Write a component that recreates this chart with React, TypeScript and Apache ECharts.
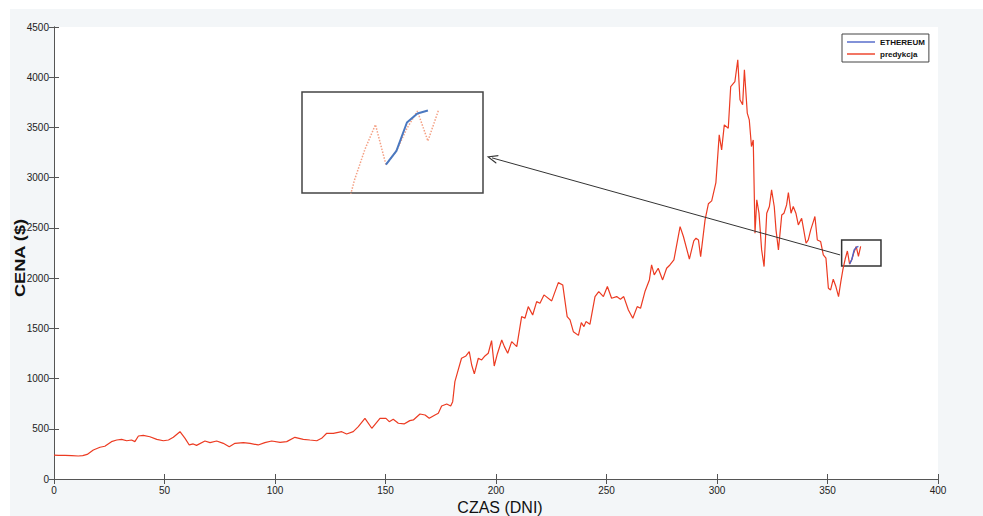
import React, { useEffect, useRef } from "react";
import * as echarts from "echarts";

// [day, price $]
const predykcja: [number, number][] = [
  [0, 238], [2, 236], [5, 235], [8, 232], [11, 229], [13, 232], [15, 245], [17.8, 289], [20.8, 316], [23, 326],
  [26, 372], [28.4, 388], [30.6, 394], [32.9, 381], [35.1, 388], [36.6, 372], [38.2, 428], [40.4, 435], [43.4, 421],
  [46.5, 395], [49.5, 381], [51.8, 388], [54, 415], [57, 471], [59.3, 405], [61.2, 339], [63, 349], [64.5, 335],
  [68.3, 378], [70.6, 362], [73.6, 378], [76.6, 355], [79.3, 322], [81.9, 355], [85.7, 362], [88.7, 355], [92.4, 339],
  [95.4, 362], [98.5, 378], [102.3, 365], [105.3, 372], [109, 415], [112.8, 395], [115.8, 388], [118.9, 381],
  [121.1, 405], [123.4, 455], [126.4, 455], [130.2, 471], [132.4, 448], [135.4, 471], [137.7, 521], [140.7, 604],
  [143.8, 505], [147.5, 604], [150.2, 604], [151.7, 571], [153.5, 594], [155.8, 555], [158.4, 548], [161, 581],
  [162.6, 588], [165.6, 647], [167.9, 637], [169.8, 604], [172.4, 637], [173.9, 654], [175.4, 727], [177.7, 747],
  [179.5, 727], [180.4, 770], [181.4, 969], [182.9, 1086], [184.4, 1202], [186.4, 1225], [187.9, 1268], [189, 1135],
  [190.2, 1046], [192, 1202], [193.5, 1185], [195, 1225], [196.5, 1252], [198, 1378], [199.2, 1125], [200.6, 1245],
  [202.6, 1384], [203.8, 1318], [205.3, 1252], [207.1, 1368], [209.4, 1318], [211.6, 1617], [213.1, 1600],
  [214.6, 1716], [216.6, 1633], [218.4, 1766], [219.9, 1750], [221.7, 1833], [225.2, 1773], [228.2, 1955],
  [230.2, 1932], [232.2, 1617], [233.5, 1584], [235, 1467], [237.3, 1430], [238.6, 1557], [239.8, 1517],
  [240.7, 1567], [242.5, 1540], [244.8, 1816], [246.5, 1866], [248.6, 1816], [250.4, 1916], [252.3, 1800],
  [254.6, 1816], [256.3, 1790], [257.8, 1816], [259.9, 1683], [261.9, 1600], [263.9, 1716], [265.4, 1700],
  [267.4, 1866], [269.4, 1982], [270.4, 2131], [271.6, 2032], [273.4, 2098], [275.4, 1982], [277.2, 2098],
  [278.7, 2131], [280.5, 2181], [283.3, 2513], [284.8, 2414], [287.5, 2190], [289.5, 2370], [290.5, 2397],
  [291.6, 2380], [292.6, 2214], [294.6, 2580], [296.1, 2740], [297.6, 2769], [299.5, 2951], [301, 3426],
  [302.1, 3277], [303.3, 3526], [305.1, 3492], [306.2, 3907], [308.1, 3957], [309.4, 4173], [310.4, 3775],
  [311.6, 3725], [312.4, 4074], [313.7, 3642], [314.6, 3576], [315.6, 3310], [316.4, 3376], [317.2, 2447],
  [318, 2779], [319, 2647], [320.2, 2281], [321.3, 2115], [322.5, 2646], [323.7, 2713], [324.7, 2879],
  [325.9, 2713], [326.7, 2480], [327.8, 2281], [329.3, 2629], [330.3, 2646], [331.5, 2729], [332.3, 2852],
  [333.5, 2646], [334.5, 2713], [335.7, 2646], [336.8, 2530], [338.3, 2596], [339.1, 2497], [340.3, 2347],
  [341.3, 2380], [342.4, 2480], [343.6, 2563], [344.3, 2613], [345.4, 2380], [346.9, 2364], [348.1, 2231],
  [349.3, 2198], [350.4, 1899], [351.4, 1882], [352.6, 1989], [353.8, 1916], [355, 1816], [356, 1960],
  [357, 2090], [358, 2190], [359, 2270], [360, 2140], [361, 2185], [362, 2258], [363, 2314], [364, 2217], [365, 2316],
];

const ethereum: [number, number][] = [
  [360, 2140], [361, 2185], [362, 2277], [363, 2306], [364, 2316],
];

// zoom window (day / price) shown in the inset
const zoomDays = [356.4, 374.2];
const zoomPrices = [2121, 2380];
const insetDays = [352, 369.25];
const insetPrices = [2048, 2376];
// arrow from the zoom box to the inset
const arrowFrom = [355.7, 2231];
const arrowTo = [198.2, 3197];

const FONT = '"Liberation Sans", Arial, sans-serif';
const RED = "#ec3b22";
const BLUE = "#4d63c8";
const AXIS = "#555";
const LEGEND_ICON = "path://M0,0L28,0L28,1.4L0,1.4Z";

export default function App() {
  const ref = useRef<HTMLDivElement>(null);
  useEffect(() => {
    if (!ref.current) return;
    const chart = echarts.init(ref.current, undefined, { renderer: "svg" });
    const OX = 10, OY = 9;
    const axisCommon = {
      axisLine: { show: true, lineStyle: { color: AXIS, width: 1 } },
      axisTick: { show: true, inside: true, length: 5, lineStyle: { color: AXIS, width: 1 } },
      splitLine: { show: false },
    };
    const plain = (v: number) => String(v);
    const option: any = {
      animation: false,
      graphic: [
        {
          type: "text", x: 20 - OX, y: 258 - OY, rotation: Math.PI / 2, scaleX: 1.3,
          style: { text: "CENA ($)", font: `bold 14px ${FONT}`, fill: "#111", align: "center", verticalAlign: "middle" },
        },
        {
          type: "text", x: 500 - OX, y: 499 - OY,
          style: { text: "CZAS (DNI)", font: `16px ${FONT}`, fill: "#111", align: "center", verticalAlign: "top" },
        },
      ],
      legend: {
        data: [
          { name: "ETHEREUM", icon: LEGEND_ICON },
          { name: "predykcja", icon: LEGEND_ICON },
        ],
        orient: "vertical",
        left: 842 - OX, top: 34 - OY,
        padding: [4, 4, 4, 5],
        itemWidth: 28, itemHeight: 8, itemGap: 4,
        backgroundColor: "#fff", borderColor: "#444", borderWidth: 1, borderRadius: 0,
        selectedMode: false,
        textStyle: { fontSize: 8, fontWeight: "bold", fontFamily: FONT, color: "#111" },
      },
      grid: [
        { left: 54 - OX, top: 27 - OY, width: 884, height: 452, show: true, backgroundColor: "#fff", borderWidth: 0 },
        { left: 302 - OX, top: 92 - OY, width: 181, height: 101, show: true, backgroundColor: "#fff", borderColor: "#444", borderWidth: 1.5 },
      ],
      xAxis: [
        {
          ...axisCommon, type: "value", gridIndex: 0, position: "bottom", min: 0, max: 400, interval: 50,
          axisLabel: { fontSize: 10, color: "#222", fontFamily: FONT, margin: 6, formatter: plain },
        },
        {
          ...axisCommon, type: "value", gridIndex: 0, position: "top", min: 0, max: 400, interval: 50,
          axisLabel: { show: false },
        },
        { type: "value", gridIndex: 1, min: insetDays[0], max: insetDays[1], show: false, splitLine: { show: false } },
      ],
      yAxis: [
        {
          ...axisCommon, type: "value", gridIndex: 0, position: "left", min: 0, max: 4500, interval: 500,
          axisLabel: { fontSize: 10, color: "#222", fontFamily: FONT, margin: 5, formatter: plain },
        },
        {
          ...axisCommon, type: "value", gridIndex: 0, position: "right", min: 0, max: 4500, interval: 500,
          axisLabel: { show: false },
        },
        { type: "value", gridIndex: 1, min: insetPrices[0], max: insetPrices[1], show: false, splitLine: { show: false } },
      ],
      series: [
        {
          name: "predykcja", type: "line", xAxisIndex: 0, yAxisIndex: 0, data: predykcja,
          symbol: "none", lineStyle: { color: RED, width: 1.2 }, itemStyle: { color: RED }, z: 3,
          markArea: {
            silent: true,
            itemStyle: { color: "rgba(0,0,0,0)", borderColor: "#333", borderWidth: 1.5 },
            label: { show: false },
            data: [[{ coord: [zoomDays[0], zoomPrices[1]] }, { coord: [zoomDays[1], zoomPrices[0]] }]],
          },
          markLine: {
            silent: true,
            symbol: ["none", "path://M5,0 L10,10 L8.6,10 L5,2.6 L1.4,10 L0,10 Z"],
            symbolSize: [9, 11],
            lineStyle: { color: "#333", width: 1, type: "solid" },
            label: { show: false },
            data: [[{ coord: arrowFrom }, { coord: arrowTo }]],
          },
        },
        {
          name: "ETHEREUM", type: "line", xAxisIndex: 0, yAxisIndex: 0, data: ethereum,
          symbol: "none", lineStyle: { color: BLUE, width: 1.4 }, itemStyle: { color: BLUE }, z: 4,
        },
        {
          name: "predykcja-zoom", type: "line", xAxisIndex: 2, yAxisIndex: 2, data: predykcja,
          symbol: "none", clip: true, lineStyle: { color: "#f4a084", width: 1.5, type: "dotted" }, z: 5,
        },
        {
          name: "ETHEREUM-zoom", type: "line", xAxisIndex: 2, yAxisIndex: 2, data: ethereum,
          symbol: "none", clip: true, lineStyle: { color: "#4a78c0", width: 2 }, z: 6,
        },
      ],
    };
    chart.setOption(option);
    return () => chart.dispose();
  }, []);
  return (
    <div
      ref={ref}
      style={{ position: "absolute", left: 10, top: 9, width: 973, height: 507, background: "#f3f6f8" }}
    />
  );
}
